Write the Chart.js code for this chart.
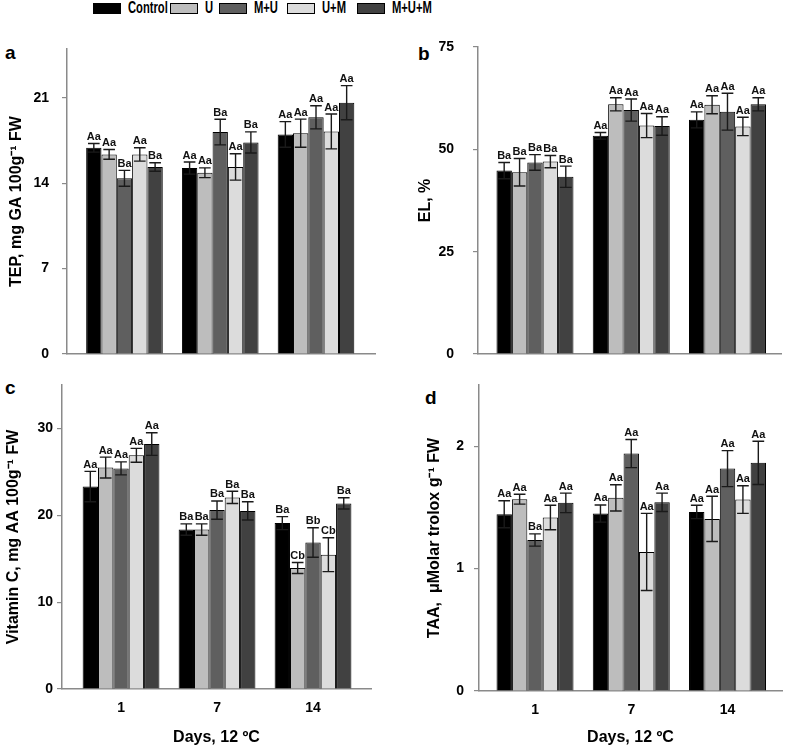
<!DOCTYPE html>
<html>
<head>
<meta charset="utf-8">
<script src="https://cdn.jsdelivr.net/npm/chart.js@4"></script>
<style>
  body { margin: 0; background: #fff; }
  #page { position: relative; width: 787px; height: 748px; overflow: hidden; font-family: "Liberation Sans", Arial, sans-serif; }
  .panel { position: absolute; }
  .tag { position: absolute; font-size: 19px; font-weight: bold; line-height: 20px; }
  .leg { position: absolute; top: 0; height: 16px; display: flex; align-items: center; font-size: 16px; font-weight: bold; white-space: nowrap; }
  .leg span.box { display: inline-block; width: 26px; height: 9px; border: 1px solid #000; margin-right: 7px; }
  .leg span.txt { display: inline-block; transform: scaleX(0.7); transform-origin: left center; }
</style>
</head>
<body>
<div id="page">
  <div id="legend"></div>
  <div class="tag" style="left:5px;top:43px">a</div>
  <div class="tag" style="left:418px;top:44px">b</div>
  <div class="tag" style="left:5px;top:378px">c</div>
  <div class="tag" style="left:425px;top:388px">d</div>
  <div class="panel" style="left:0;top:0"><canvas id="chartA" width="395" height="365"></canvas></div>
  <div class="panel" style="left:395px;top:0"><canvas id="chartB" width="392" height="365"></canvas></div>
  <div class="panel" style="left:0;top:365px"><canvas id="chartC" width="395" height="383"></canvas></div>
  <div class="panel" style="left:395px;top:365px"><canvas id="chartD" width="392" height="383"></canvas></div>
</div>
<script>
// categories and series
const days = ['1', '7', '14'];
const seriesNames = ['Control', 'U', 'M+U', 'U+M', 'M+U+M'];

// a - TEP (rows = series, columns = days)
const tepMeans = [[16.9, 15.24, 18.0], [16.36, 14.86, 18.1], [14.4, 18.19, 19.4], [16.36, 15.33, 18.24], [15.33, 17.34, 20.6]];
const tepErrors = [[0.35, 0.5, 1.05], [0.4, 0.4, 1.15], [0.65, 1.05, 0.95], [0.55, 1.08, 1.43], [0.35, 0.87, 1.4]];
const tepLetters = [['Aa', 'Aa', 'Aa'], ['Aa', 'Aa', 'Aa'], ['Ba', 'Ba', 'Aa'], ['Aa', 'Aa', 'Aa'], ['Ba', 'Ba', 'Aa']];
const tepTicks = [0, 7, 14, 21];

// b - EL
const elMeans = [[44.8, 53.3, 57.2], [44.4, 61.0, 60.9], [46.8, 59.6, 59.2], [47.0, 55.8, 55.6], [43.3, 55.7, 61.0]];
const elErrors = [[2.0, 0.8, 1.95], [3.35, 1.6, 2.2], [1.9, 2.7, 4.5], [1.5, 2.95, 2.25], [2.6, 2.25, 1.6]];
const elLetters = [['Ba', 'Aa', 'Aa'], ['Ba', 'Aa', 'Aa'], ['Ba', 'Aa', 'Aa'], ['Ba', 'Aa', 'Aa'], ['Ba', 'Aa', 'Aa']];
const elTicks = [0, 25, 50, 75];

// c - Vitamin C
const vitMeans = [[23.3, 18.36, 19.1], [25.5, 18.36, 13.93], [25.4, 20.6, 16.87], [26.9, 22.06, 15.46], [28.2, 20.5, 21.37]];
const vitErrors = [[1.75, 0.65, 0.75], [1.2, 0.65, 0.63], [0.75, 1.05, 1.7], [0.8, 0.7, 1.95], [1.3, 1.05, 0.65]];
const vitLetters = [['Aa', 'Ba', 'Ba'], ['Aa', 'Ba', 'Cb'], ['Aa', 'Ba', 'Bb'], ['Aa', 'Ba', 'Cb'], ['Aa', 'Ba', 'Ba']];
const vitTicks = [0, 10, 20, 30];

// d - TAA
const taaMeans = [[1.444, 1.45, 1.463], [1.567, 1.578, 1.406], [1.234, 1.94, 1.817], [1.417, 1.136, 1.564], [1.537, 1.542, 1.864]];
const taaErrors = [[0.11, 0.07, 0.055], [0.04, 0.107, 0.185], [0.05, 0.115, 0.147], [0.1, 0.315, 0.113], [0.08, 0.075, 0.177]];
const taaLetters = [['Aa', 'Aa', 'Aa'], ['Aa', 'Aa', 'Aa'], ['Ba', 'Aa', 'Aa'], ['Aa', 'Aa', 'Aa'], ['Aa', 'Aa', 'Aa']];
const taaTicks = [0, 1, 2];

// styles
const barColors = ['#000000', '#bdbdbd', '#5f5f5f', '#dcdcdc', '#414141'];
const axisGray = '#8a8a8a';
const legendLeft = [93, 170, 219, 287, 357];

Chart.defaults.font.family = '"Liberation Sans", Arial, sans-serif';
Chart.defaults.color = '#000';

// legend
const legend = document.getElementById('legend');
seriesNames.forEach(function(name, i) {
    const item = document.createElement('div');
    item.className = 'leg';
    item.style.left = legendLeft[i] + 'px';
    item.innerHTML = '<span class="box" style="background:' + barColors[i] + '"></span><span class="txt">' + name + '</span>';
    legend.appendChild(item);
});

function makePanel(id, cfg) {
    const datasets = seriesNames.map(function(name, s) {
        return {
            label: name,
            data: days.map(function(d, i) { return { x: i, y: cfg.means[s][i] }; }),
            backgroundColor: barColors[s],
            borderColor: '#000',
            borderWidth: 1,
            barPercentage: 1.0,
            categoryPercentage: 0.8
        };
    });

    const errorBars = {
        id: 'errorBars' + id,
        afterDatasetsDraw: function(chart) {
            const ctx = chart.ctx;
            const y = chart.scales.y;
            ctx.save();
            ctx.strokeStyle = '#1a1a1a';
            ctx.lineWidth = 1.4;
            ctx.fillStyle = '#111';
            ctx.font = 'bold 11px "Liberation Sans", Arial, sans-serif';
            ctx.textAlign = 'center';
            ctx.textBaseline = 'bottom';
            chart.data.datasets.forEach(function(ds, s) {
                const meta = chart.getDatasetMeta(s);
                meta.data.forEach(function(bar, i) {
                    const m = cfg.means[s][i], e = cfg.errors[s][i];
                    const top = y.getPixelForValue(m + e);
                    const bot = y.getPixelForValue(m - e);
                    const half = bar.width * 0.38;
                    ctx.beginPath();
                    ctx.moveTo(bar.x, top); ctx.lineTo(bar.x, bot);
                    ctx.moveTo(bar.x - half, top); ctx.lineTo(bar.x + half, top);
                    ctx.moveTo(bar.x - half, bot); ctx.lineTo(bar.x + half, bot);
                    ctx.stroke();
                    ctx.fillText(cfg.letters[s][i], bar.x, top - 1);
                });
            });
            ctx.restore();
        }
    };

    return new Chart(document.getElementById(id), {
        type: 'bar',
        data: { datasets: datasets },
        plugins: [errorBars],
        options: {
            responsive: false,
            animation: false,
            layout: { padding: { top: cfg.padTop, right: cfg.padRight, left: 0, bottom: 0 } },
            plugins: { legend: { display: false }, tooltip: { enabled: false } },
            scales: {
                x: {
                    type: 'linear',
                    offset: false,
                    min: cfg.xMin,
                    max: cfg.xMax,
                    grid: { display: false },
                    border: { display: true, color: axisGray, width: 1.5 },
                    afterBuildTicks: function(scale) {
                        scale.ticks = days.map(function(d, i) { return { value: i }; });
                    },
                    afterFit: function(scale) {
                        scale.height = cfg.xHeight;
                        scale.paddingLeft = 0;
                        scale.paddingRight = 0;
                    },
                    ticks: {
                        display: cfg.showX,
                        padding: 3,
                        font: { size: 14, weight: 'bold' },
                        callback: function(v) { return days[v]; }
                    },
                    title: {
                        display: cfg.showX,
                        text: 'Days, 12 ºC',
                        font: { size: 16, weight: 'bold' },
                        padding: { top: 0, bottom: 1 }
                    }
                },
                y: {
                    min: 0,
                    max: cfg.yMax,
                    grid: { display: true, drawOnChartArea: false, drawTicks: true, tickLength: 5, color: axisGray, lineWidth: 1.2 },
                    border: { display: true, color: axisGray, width: 1.5 },
                    afterBuildTicks: function(scale) {
                        scale.ticks = cfg.ticks.map(function(v) { return { value: v }; });
                    },
                    afterFit: function(scale) {
                        scale.width = cfg.yWidth;
                        scale.paddingTop = 0;
                        scale.paddingBottom = 0;
                    },
                    ticks: { padding: cfg.tickPad, font: { size: 14, weight: 'bold' } },
                    title: {
                        display: true,
                        text: cfg.title,
                        font: { size: 16, weight: 'bold' },
                        padding: { top: cfg.titlePad, bottom: 0 }
                    }
                }
            }
        }
    });
}

makePanel('chartA', {
    means: tepMeans, errors: tepErrors, letters: tepLetters, ticks: tepTicks,
    yMax: 25, title: 'TEP, mg GA 100g⁻¹ FW', showX: false,
    xMin: -0.6, xMax: 2.616, padTop: 49, padRight: 20, yWidth: 67, xHeight: 11, tickPad: 13, titlePad: 7
});
makePanel('chartB', {
    means: elMeans, errors: elErrors, letters: elLetters, ticks: elTicks,
    yMax: 75, title: 'EL, %', showX: false,
    xMin: -0.592, xMax: 2.556, padTop: 47, padRight: 6, yWidth: 83, xHeight: 11, tickPad: 19, titlePad: 21
});
makePanel('chartC', {
    means: vitMeans, errors: vitErrors, letters: vitLetters, ticks: vitTicks,
    yMax: 35, title: 'Vitamin C, mg AA 100g⁻¹ FW', showX: true,
    xMin: -0.615, xMax: 2.604, padTop: 20, padRight: 24, yWidth: 62, xHeight: 59, tickPad: 4, titlePad: 4
});
makePanel('chartD', {
    means: taaMeans, errors: taaErrors, letters: taaLetters, ticks: taaTicks,
    yMax: 2.5, title: 'TAA,  μMolar trolox g⁻¹ FW', showX: true,
    xMin: -0.582, xMax: 2.566, padTop: 20, padRight: 5, yWidth: 84, xHeight: 57, tickPad: 10, titlePad: 30
});
</script>
</body>
</html>
